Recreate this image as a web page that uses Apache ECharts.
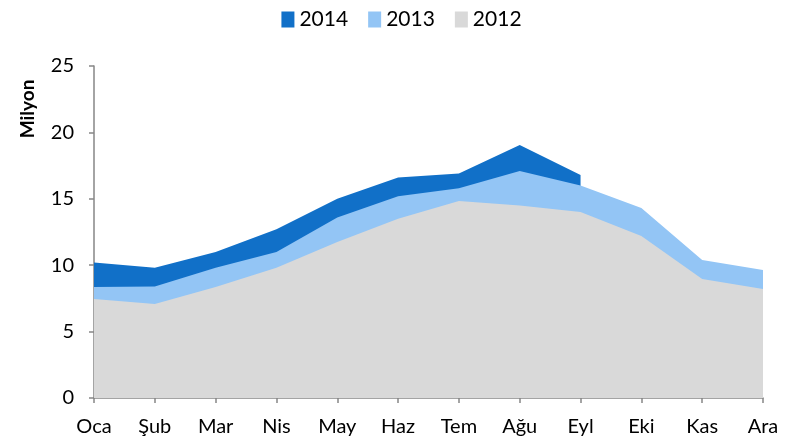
<!DOCTYPE html>
<html>
<head>
<meta charset="utf-8">
<script src="https://cdn.jsdelivr.net/npm/echarts@6/dist/echarts.min.js"></script>
<style>
  html, body { margin: 0; padding: 0; background: #fff; }
  #chart { width: 803px; height: 445px; }
</style>
</head>
<body>
<div id="chart"></div>
<script>
const months = ['Oca', 'Şub', 'Mar', 'Nis', 'May', 'Haz', 'Tem', 'Ağu', 'Eyl', 'Eki', 'Kas', 'Ara']
const years = ['2014', '2013', '2012']
const data2014 = [10.2, 9.8, 11.0, 12.7, 15.0, 16.6, 16.9, 19.05, 16.8, null, null, null]
const data2013 = [8.36, 8.4, 9.8, 11.0, 13.6, 15.2, 15.8, 17.1, 16.0, 14.3, 10.4, 9.64]
const data2012 = [7.45, 7.08, 8.36, 9.8, 11.75, 13.5, 14.83, 14.5, 14.0, 12.2, 8.96, 8.2]
const colors = ['#1170C8', '#93C5F5', '#D9D9D9']

const chart = echarts.init(document.getElementById('chart'))
const font = 'Lato'

function areaSeries(name, values, color) {
  return {
    name: name,
    type: 'line',
    data: values,
    symbol: 'none',
    lineStyle: { width: 0, color: color },
    itemStyle: { color: color },
    areaStyle: { color: color, opacity: 1 },
    emphasis: { disabled: true },
  }
}

chart.setOption({
  animation: false,
  textStyle: { fontFamily: font },
  legend: {
    top: 4,
    left: 'center',
    itemWidth: 13,
    itemHeight: 16,
    itemGap: 20,
    icon: 'rect',
    textStyle: { fontSize: 21, color: '#000', fontFamily: font },
    data: years,
  },
  grid: { left: 94, right: 40, top: 66, bottom: 47 },
  xAxis: {
    type: 'category',
    data: months,
    boundaryGap: false,
    axisLine: { lineStyle: { color: '#868686', width: 1.5 } },
    axisTick: { show: true, inside: false, length: 5, lineStyle: { color: '#868686', width: 1.5 } },
    axisLabel: { color: '#000', fontSize: 20, margin: 19, fontFamily: font },
    splitLine: { show: false },
  },
  yAxis: {
    type: 'value',
    min: 0,
    max: 25,
    interval: 5,
    axisLine: { show: true, lineStyle: { color: '#868686', width: 1.5 } },
    axisTick: { show: true, length: 5, lineStyle: { color: '#868686', width: 1.5 } },
    axisLabel: { color: '#000', fontSize: 20, margin: 20, fontFamily: font },
    splitLine: { show: false },
  },
  graphic: [{
    type: 'text',
    x: 28,
    y: 109,
    rotation: Math.PI / 2,
    style: {
      text: 'Milyon',
      fill: '#000',
      font: 'bold 19px ' + font,
      align: 'center',
      verticalAlign: 'middle',
    },
  }],
  series: [
    areaSeries(years[0], data2014, colors[0]),
    areaSeries(years[1], data2013, colors[1]),
    areaSeries(years[2], data2012, colors[2]),
  ],
})
</script>
</body>
</html>
